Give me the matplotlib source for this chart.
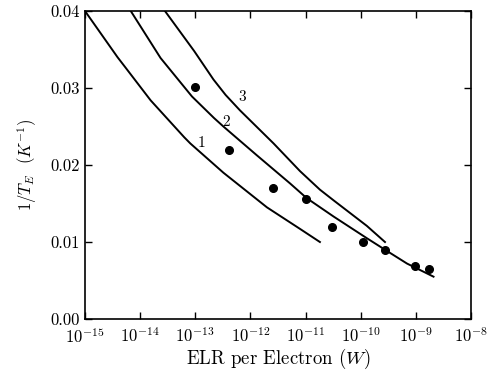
import numpy as np
import matplotlib
matplotlib.use("Agg")
from matplotlib import pyplot as plt
from matplotlib.ticker import LogLocator, NullLocator

plt.rcParams['font.family'] = ['cmr10', 'DejaVu Serif']
plt.rcParams['mathtext.fontset'] = 'cm'
plt.rcParams['axes.formatter.use_mathtext'] = True

# curves: log10(ELR) exponents and 1/T_E
c1_exp = [-15.0, -14.41, -14.27, -13.81, -13.20, -13.09, -12.49, -11.70, -11.10, -10.74]
c1_y = [0.0400, 0.0340, 0.0327, 0.0284, 0.0236, 0.0228, 0.0190, 0.0145, 0.0117, 0.0100]

c2_exp = [-14.17, -13.63, -13.06, -12.66, -12.49, -11.89, -11.28, -10.98, -10.49, -9.89, -9.56, -9.16, -8.68]
c2_y = [0.0400, 0.0339, 0.0289, 0.0261, 0.0250, 0.0213, 0.0176, 0.0157, 0.0133, 0.0105, 0.0090, 0.0072, 0.0055]

c3_exp = [-13.55, -13.02, -12.67, -12.45, -12.19, -11.58, -11.10, -10.74, -10.49, -9.89, -9.56]
c3_y = [0.0400, 0.0348, 0.0311, 0.0291, 0.0271, 0.0228, 0.0192, 0.0168, 0.0154, 0.0121, 0.0100]

# measured points
pts_x = [9.9e-14, 4.1e-13, 2.55e-12, 1.03e-11, 3.0e-11, 1.08e-10, 2.7e-10, 9.75e-10, 1.75e-9]
pts_y = [0.0301, 0.0220, 0.0170, 0.01555, 0.0120, 0.0100, 0.0090, 0.0069, 0.00645]

labels = ['1', '2', '3']
label_x = [1.32e-13, 3.6e-13, 7.1e-13]
label_y = [0.0229, 0.0256, 0.0288]

fig = plt.figure(figsize=(4.93, 3.77), dpi=100)
ax = fig.add_axes([0.1724, 0.1538, 0.9554 - 0.1724, 0.9708 - 0.1538])

for ex, yy in [(c1_exp, c1_y), (c2_exp, c2_y), (c3_exp, c3_y)]:
    ax.plot(10.0 ** np.array(ex), yy, color='black', lw=1.4)

ax.plot(pts_x, pts_y, 'o', color='black', ms=5.5)

for t, lx, ly in zip(labels, label_x, label_y):
    ax.text(lx, ly, t, fontsize=11, ha='center', va='center')

ax.set_xscale('log')
ax.set_xlim(1e-15, 1e-8)
ax.set_ylim(0, 0.04)
ax.xaxis.set_major_locator(LogLocator(base=10, numticks=20))
ax.xaxis.set_minor_locator(NullLocator())
ax.set_yticks([0.0, 0.01, 0.02, 0.03, 0.04])
ax.set_yticklabels(['0.00', '0.01', '0.02', '0.03', '0.04'])

ax.tick_params(direction='in', top=True, right=True, length=5, width=1,
               labelsize=12)
ax.tick_params(axis='x', pad=5)
ax.tick_params(axis='y', pad=4)
for s in ax.spines.values():
    s.set_linewidth(1.2)

ax.set_xlabel('ELR per Electron ($W$)', fontsize=13.5, labelpad=1)
ax.set_ylabel('$1/T_E$  $(K^{-1})$', fontsize=12, labelpad=8)

fig.savefig('out.png', dpi=100)
